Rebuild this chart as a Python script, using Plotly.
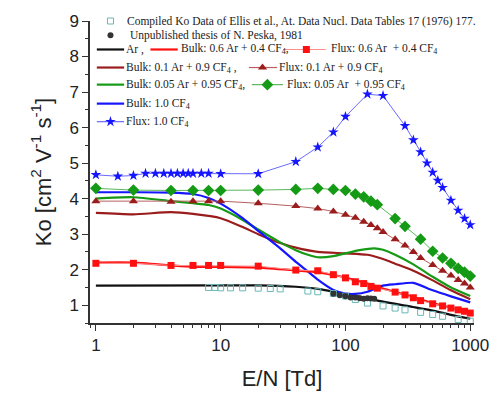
import plotly.graph_objects as go

# ---------------- data ----------------
# Compiled Ko data (Ellis et al.)
ellis_en = [8, 9, 10, 12, 15, 20, 25, 30, 50, 60, 80, 100, 120, 150, 200, 250, 300, 400, 500, 600, 800, 1000]
ellis_ko = [1.50, 1.50, 1.49, 1.49, 1.49, 1.48, 1.47, 1.46, 1.40, 1.38, 1.33, 1.26, 1.16, 1.06, 0.98, 0.92, 0.87, 0.80, 0.74, 0.69, 0.60, 0.55]

# Unpublished thesis of N. Peska
peska_en = [80, 90, 100, 110, 120, 130, 140, 150, 160, 170]
peska_ko = [1.32, 1.28, 1.25, 1.22, 1.22, 1.20, 1.18, 1.20, 1.19, 1.18]

# Bulk mobilities
ar_en = [1, 10, 20, 40, 60, 80, 100, 150, 200, 350, 500, 700, 1000]
ar_ko = [1.55, 1.56, 1.56, 1.52, 1.46, 1.38, 1.31, 1.20, 1.10, 0.95, 0.85, 0.73, 0.62]

bulk06_en = [1, 2, 4, 6, 10, 20, 40, 60, 80, 100, 150, 200, 300, 500, 700, 1000]
bulk06_ko = [2.20, 2.20, 2.12, 2.08, 2.08, 2.06, 1.98, 1.93, 1.85, 1.78, 1.61, 1.47, 1.30, 1.06, 0.93, 0.80]

bulk01_en = [1, 2, 4, 6, 10, 15, 20, 30, 40, 60, 100, 150, 200, 250, 350, 500, 700, 1000]
bulk01_ko = [3.60, 3.56, 3.62, 3.57, 3.45, 3.20, 3.00, 2.75, 2.62, 2.50, 2.46, 2.42, 2.30, 2.17, 1.97, 1.70, 1.42, 1.17]

bulk005_en = [1, 2, 4, 6, 8, 10, 15, 20, 30, 40, 50, 60, 80, 100, 130, 170, 200, 250, 350, 500, 700, 1000]
bulk005_ko = [4.00, 4.04, 3.93, 3.87, 3.82, 3.72, 3.40, 3.13, 2.77, 2.55, 2.42, 2.35, 2.38, 2.46, 2.55, 2.60, 2.56, 2.42, 2.15, 1.80, 1.50, 1.26]

bulkcf4_en = [1, 2, 4, 6, 8, 10, 15, 20, 30, 40, 50, 60, 80, 100, 120, 150, 200, 250, 350, 500, 700, 1000]
bulkcf4_ko = [4.18, 4.18, 4.17, 4.13, 4.02, 3.86, 3.45, 3.09, 2.60, 2.22, 1.95, 1.72, 1.43, 1.33, 1.32, 1.38, 1.55, 1.59, 1.63, 1.42, 1.25, 1.08]

# Flux mobilities
flux06_en = [1, 2, 4, 6, 8, 10, 20, 40, 60, 80, 100, 120, 140, 160, 180, 250, 300, 350, 400, 500, 600, 700, 800, 900, 1000]
flux06_ko = [2.18, 2.18, 2.12, 2.12, 2.12, 2.12, 2.10, 1.99, 1.97, 1.86, 1.77, 1.66, 1.61, 1.53, 1.48, 1.37, 1.29, 1.21, 1.13, 1.04, 0.98, 0.92, 0.87, 0.83, 0.78]

flux01_en = [1, 2, 4, 6, 8, 10, 20, 40, 60, 80, 100, 120, 140, 160, 180, 200, 250, 300, 350, 400, 500, 600, 700, 800, 900, 1000]
flux01_ko = [3.93, 3.93, 3.91, 3.93, 3.93, 3.93, 3.87, 3.79, 3.72, 3.64, 3.55, 3.46, 3.35, 3.26, 3.17, 3.06, 2.86, 2.68, 2.50, 2.33, 2.13, 1.97, 1.84, 1.71, 1.61, 1.50]

flux005_en = [1, 2, 4, 6, 8, 10, 20, 40, 60, 80, 100, 120, 140, 160, 180, 250, 300, 400, 500, 600, 700, 800, 900, 1000]
flux005_ko = [4.29, 4.24, 4.23, 4.23, 4.23, 4.23, 4.24, 4.26, 4.29, 4.26, 4.23, 4.13, 4.05, 3.93, 3.83, 3.44, 3.22, 2.86, 2.52, 2.33, 2.18, 2.04, 1.93, 1.82]

fluxcf4_en = [1, 1.5, 2, 2.5, 3, 3.5, 4, 4.5, 5, 5.5, 6, 7, 8, 10, 20, 40, 60, 80, 100, 150, 200,
              300, 350, 400, 450, 500, 550, 600, 700, 800, 900, 1000]
fluxcf4_ko = [4.67, 4.63, 4.65, 4.71, 4.71, 4.71, 4.71, 4.71, 4.71, 4.71, 4.71, 4.71, 4.71, 4.70, 4.70, 5.04, 5.45, 5.87, 6.31, 6.94, 6.90,
              6.05, 5.65, 5.31, 5.00, 4.74, 4.51, 4.31, 3.95, 3.67, 3.44, 3.26]

x_ticks = [1, 10, 100, 1000]
y_ticks = [1, 2, 3, 4, 5, 6, 7, 8, 9]

# ---------------- styles ----------------
C_BLACK = "#111111"
C_RED = "#ff1010"
C_RED_LIGHT = "#ff8f8f"
C_BROWN = "#9a1c1c"
C_BROWN_LIGHT = "#b86060"
C_GREEN = "#159a15"
C_GREEN_LIGHT = "#5ab85a"
C_BLUE = "#1515ff"
C_BLUE_LIGHT = "#6a6aff"
C_CYAN = "#69b8b8"
C_DOT = "#333333"

fig = go.Figure()

def bulk(x, y, color):
    fig.add_trace(go.Scatter(x=x, y=y, mode="lines", line=dict(color=color, width=2.2, shape="spline", smoothing=0.6),
                             showlegend=False, hoverinfo="skip"))

def flux(x, y, color, line_color, symbol, size):
    fig.add_trace(go.Scatter(x=x, y=y, mode="lines+markers", line=dict(color=line_color, width=1),
                             marker=dict(symbol=symbol, size=size, color=color), showlegend=False,
                             cliponaxis=False))

bulk(ar_en, ar_ko, C_BLACK)
bulk(bulk01_en, bulk01_ko, C_BROWN)
bulk(bulk005_en, bulk005_ko, C_GREEN)
bulk(bulkcf4_en, bulkcf4_ko, C_BLUE)
bulk(bulk06_en, bulk06_ko, C_RED)

fig.add_trace(go.Scatter(x=ellis_en, y=ellis_ko, mode="markers", cliponaxis=False,
                         marker=dict(symbol="square-open", size=6, color=C_CYAN, line=dict(width=1)),
                         showlegend=False))
fig.add_trace(go.Scatter(x=peska_en, y=peska_ko, mode="markers",
                         marker=dict(symbol="circle", size=6, color=C_DOT), showlegend=False))

flux(flux06_en, flux06_ko, C_RED, C_RED_LIGHT, "square", 7)
flux(flux01_en, flux01_ko, C_BROWN, C_BROWN_LIGHT, "triangle-up", 8)
flux(flux005_en, flux005_ko, C_GREEN, C_GREEN_LIGHT, "diamond", 9)
flux(fluxcf4_en, fluxcf4_ko, C_BLUE, C_BLUE_LIGHT, "star", 8)

# ---------------- legend block (drawn on a pixel-scaled overlay axis) ----------------
TXT = dict(family="Liberation Serif, Times New Roman, serif", size=11.5, color="#222222")

def key_line(x0, x1, y, color, width):
    fig.add_trace(go.Scatter(x=[x0, x1], y=[y, y], mode="lines", xaxis="x2", yaxis="y2",
                             line=dict(color=color, width=width), showlegend=False,
                             hoverinfo="skip", cliponaxis=False))

def key_marker(x, y, color, symbol, size, line_w=0):
    fig.add_trace(go.Scatter(x=[x], y=[y], mode="markers", xaxis="x2", yaxis="y2",
                             marker=dict(symbol=symbol, size=size, color=color, line=dict(width=line_w, color=color)),
                             showlegend=False, hoverinfo="skip", cliponaxis=False))

def key_text(x, y, text):
    fig.add_annotation(x=x, y=y, xref="x2", yref="y2", text=text, showarrow=False,
                       xanchor="left", yanchor="middle", font=TXT)

CF4 = "CF<sub>4</sub>"
r1, r2, r3, r4, r5, r6, r7 = 14, 29, 44, 63, 81, 101, 120

key_marker(111, r1, C_CYAN, "square-open", 6, 1)
key_text(126, r1, "Compiled Ko Data of Ellis et al., At. Data Nucl. Data Tables 17 (1976) 177.")
key_marker(111, r2, C_DOT, "circle", 6)
key_text(129, r2, "Unpublished thesis of N. Peska, 1981")

key_line(97, 125, r3, C_BLACK, 2.2)
key_text(125, r3, "Ar ,")
key_line(152, 180, r3, C_RED, 2.2)
key_text(181, r3, f"Bulk: 0.6 Ar + 0.4 {CF4},")
key_line(288, 332, r3, C_RED_LIGHT, 1.2)
key_marker(312, r3, C_RED, "square", 7)
key_text(335, r3, f"Flux: 0.6 Ar  + 0.4 {CF4}")

key_line(97, 125, r4, C_BROWN, 2.2)
key_text(125, r4, f"Bulk: 0.1 Ar + 0.9 {CF4} ,")
key_line(253, 282, r4, C_BROWN_LIGHT, 1.2)
key_marker(267, r4, C_BROWN, "triangle-up", 8)
key_text(282, r4, f"Flux: 0.1 Ar + 0.9 {CF4}")

key_line(97, 125, r5, C_GREEN, 2.2)
key_text(125, r5, f"Bulk: 0.05 Ar + 0.95 {CF4},")
key_line(256, 288, r5, C_GREEN_LIGHT, 1.2)
key_marker(272, r5, C_GREEN, "diamond", 9)
key_text(290, r5, f"Flux: 0.05 Ar  + 0.95 {CF4}")

key_line(97, 125, r6, C_BLUE, 2.2)
key_text(125, r6, f"Bulk: 1.0 {CF4}")
key_line(97, 125, r7, C_BLUE_LIGHT, 1.2)
key_marker(111, r7, C_BLUE, "star", 8)
key_text(125, r7, f"Flux: 1.0 {CF4}")

# ---------------- axes ----------------
AX_FONT = dict(family="Liberation Sans, Arial, sans-serif", size=17, color="#222222")
TITLE_FONT = dict(family="Liberation Sans, Arial, sans-serif", size=22, color="#222222")

fig.update_layout(
    width=501, height=399,
    margin=dict(l=90, r=17, t=14, b=67, pad=0),
    paper_bgcolor="white", plot_bgcolor="white",
    showlegend=False,
    xaxis=dict(type="log", range=[-0.047, 3.03], tickvals=x_ticks, ticktext=[str(v) for v in x_ticks],
               ticks="outside", ticklen=6, tickwidth=1.3, tickcolor="#333333",
               minor=dict(ticks="outside", ticklen=3, tickwidth=1, tickcolor="#333333", dtick="D1", showgrid=False),
               showline=True, linecolor="#333333", linewidth=1.5, showgrid=False, zeroline=False,
               tickfont=AX_FONT,
               title=dict(text="E/N [Td]", font=TITLE_FONT, standoff=16)),
    yaxis=dict(range=[0.5, 9], tickvals=y_ticks, ticks="outside", ticklen=6, tickwidth=1.3, tickcolor="#333333",
               minor=dict(ticks="outside", ticklen=3, tickwidth=1, tickcolor="#333333", dtick=0.5, showgrid=False),
               showline=True, linecolor="#333333", linewidth=1.5, showgrid=False, zeroline=False,
               tickfont=AX_FONT,
               title=dict(text="Ko [cm<sup>2</sup> V<sup>-1</sup> s<sup>-1</sup>]", font=TITLE_FONT, standoff=12)),
    xaxis2=dict(overlaying="x", range=[90, 484], visible=False, fixedrange=True),
    yaxis2=dict(overlaying="y", range=[332, 14], visible=False, fixedrange=True),
)

fig.write_html("out.html")
